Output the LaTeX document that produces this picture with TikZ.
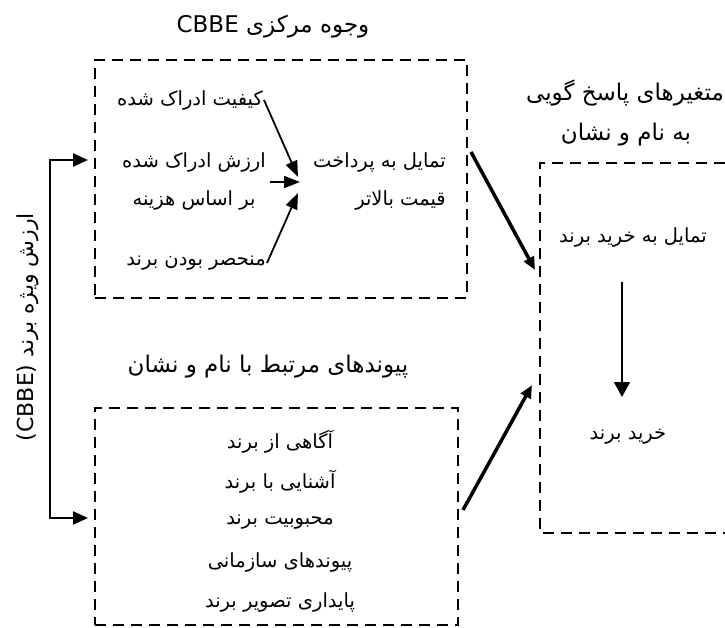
\documentclass[tikz,border=0pt]{standalone}
\usepackage{fontspec}
\newfontfamily\farsifont[Script=Arabic]{DejaVu Sans}
\TeXXeTstate=1
\usetikzlibrary{arrows.meta,positioning}
\newcommand{\fa}[1]{\beginR #1\endR}

\tikzset{
  dashbox/.style={draw, line width=2.5pt, dash pattern=on 11pt off 7pt, inner sep=0pt},
  itemtext/.style={font=\farsifont\fontsize{19.5}{23}\selectfont, inner sep=1pt},
  headtext/.style={font=\farsifont\fontsize{23}{27}\selectfont, inner sep=1pt},
  thinarrow/.style={line width=1.8pt, -{Triangle[length=16pt, width=12pt]}},
  thickarrow/.style={line width=3.5pt, -{Triangle[length=13pt, width=11pt]}},
  bracket/.style={line width=2.2pt, {Triangle[length=15pt, width=13pt]}-{Triangle[length=15pt, width=13pt]}}
}

\begin{document}
\begin{tikzpicture}[x=1pt, y=-1pt]
\useasboundingbox (0,0) rectangle (725,628);

% ---------- core facets
\node[dashbox, minimum width=372pt, minimum height=238pt] (core) at (281,179) {};
\node[headtext] (corehead) at (273,27) {\fa{وجوه مرکزی \beginL CBBE\endL}};
\node[itemtext, anchor=east] (quality) at (264,100) {\fa{کیفیت ادراک شده}};
\node[itemtext, anchor=east] (value) at (267,162) {\fa{ارزش ادراک شده}};
\node[itemtext] (cost) at (194,200) {\fa{بر اساس هزینه}};
\node[itemtext, anchor=east] (unique) at (267,263) {\fa{منحصر بودن برند}};
\node[itemtext, anchor=east] (pay) at (447,162) {\fa{تمایل به پرداخت}};
\node[itemtext, anchor=east] (price) at (447,200) {\fa{قیمت بالاتر}};
\coordinate (tipA) at (298,177);
\coordinate (tipB) at (300,182);
\coordinate (tipC) at (298,193);
\coordinate (valuefoot) at (270,182);
\draw[thinarrow] (quality.east) -- (tipA);
\draw[thinarrow] (valuefoot) -- (tipB);
\draw[thinarrow] (unique.east) -- (tipC);

% ---------- brand associations
\node[dashbox, minimum width=363pt, minimum height=217pt] (links) at (276.5,516.5) {};
\node[headtext] (linkshead) at (268,367) {\fa{پیوندهای مرتبط با نام و نشان}};
\foreach \t [count=\i from 0] in {آگاهی از برند, آشنایی با برند, محبوبیت برند, پیوندهای سازمانی, پایداری تصویر برند}
  \node[itemtext] (link\i) at (280,442+40*\i) {\fa{\t}};

% ---------- response variables, open to the right
\draw[dashbox] (725,163) -- (540,163) -- (540,533) -- (725,533);
\node[headtext] (resphead) at (625,93) {\fa{متغیرهای پاسخ گویی}};
\node[headtext] (respsub) at (626,135) {\fa{به نام و نشان}};
\node[itemtext] (intent) at (633,237) {\fa{تمایل به خرید برند}};
\node[itemtext] (purchase) at (628,437) {\fa{خرید برند}};
\coordinate (intentfoot) at (622,282);
\coordinate (purchasehead) at (622,397);
\draw[thinarrow, -{Triangle[length=15pt, width=16pt]}] (intentfoot) -- (purchasehead);

% ---------- links between panels
\coordinate (coreout) at (471,152);
\coordinate (respinA) at (535,270);
\coordinate (linksout) at (463,510);
\coordinate (respinB) at (532,385);
\draw[thickarrow] (coreout) -- (respinA);
\draw[thickarrow] (linksout) -- (respinB);

% ---------- brand equity bracket
\coordinate (corein) at (88,160);
\coordinate (linksin) at (88,518);
\draw[bracket] (corein) -- ++(-38,0) |- (linksin);
\node[headtext, font=\farsifont\fontsize{22}{26}\selectfont, rotate=90] (cbbe) at (28,327) {\fa{ارزش ویژه برند \beginL(CBBE)\endL}};

\end{tikzpicture}
\end{document}
